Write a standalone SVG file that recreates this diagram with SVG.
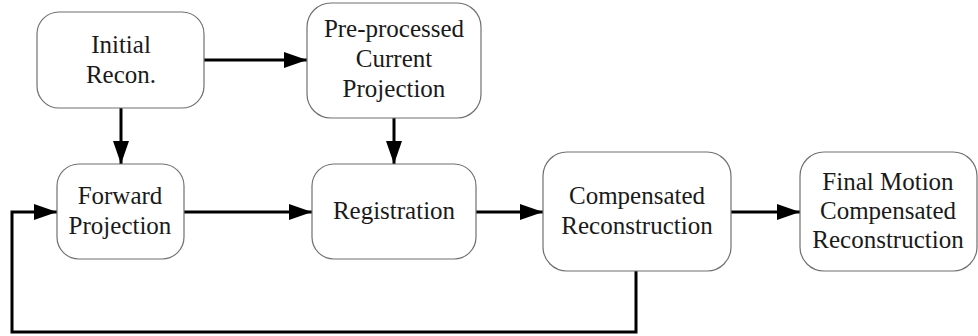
<svg xmlns="http://www.w3.org/2000/svg" width="978" height="336" viewBox="0 0 978 336" font-family="Liberation Serif, serif">
<style>
.box{fill:#fff;stroke:#707070;stroke-width:1.2}
.t{font-size:25px;fill:#1a1a1a;text-anchor:middle}
.c{fill:none;stroke:#000;stroke-width:3}
</style>
<defs>
<marker id="ah" markerUnits="userSpaceOnUse" markerWidth="24" markerHeight="18" refX="23" refY="8" orient="auto">
<path d="M0,0 L23,8 L0,16 Z" fill="#000"/>
</marker>
</defs>
<rect width="978" height="336" fill="#fff"/>
<g id="connectors">
<line class="c" x1="204" y1="60" x2="307" y2="60" marker-end="url(#ah)"/>
<line class="c" x1="121" y1="108" x2="121" y2="164" marker-end="url(#ah)"/>
<line class="c" x1="394" y1="118" x2="394" y2="164" marker-end="url(#ah)"/>
<line class="c" x1="184" y1="212" x2="312" y2="212" marker-end="url(#ah)"/>
<line class="c" x1="476" y1="212" x2="543" y2="212" marker-end="url(#ah)"/>
<line class="c" x1="731" y1="212" x2="800" y2="212" marker-end="url(#ah)"/>
<polyline class="c" points="636,271 636,332 12,332 12,212 57,212" marker-end="url(#ah)"/>
</g>
<g id="initial">
<rect class="box" x="37" y="12" width="167" height="96" rx="22"/>
<text class="t" x="121" y="53">Initial</text>
<text class="t" x="121" y="83">Recon.</text>
</g>
<g id="preprocessed">
<rect class="box" x="307" y="3" width="174" height="115" rx="24"/>
<text class="t" x="394" y="37">Pre-processed</text>
<text class="t" x="394" y="67">Current</text>
<text class="t" x="394" y="97">Projection</text>
</g>
<g id="forward">
<rect class="box" x="57" y="164" width="127" height="95" rx="22"/>
<text class="t" x="120" y="204">Forward</text>
<text class="t" x="120" y="234">Projection</text>
</g>
<g id="registration">
<rect class="box" x="312" y="164" width="164" height="95" rx="22"/>
<text class="t" x="394" y="219">Registration</text>
</g>
<g id="compensated">
<rect class="box" x="543" y="152" width="188" height="119" rx="24"/>
<text class="t" x="637" y="204">Compensated</text>
<text class="t" x="637" y="234">Reconstruction</text>
</g>
<g id="final">
<rect class="box" x="800" y="152" width="177" height="119" rx="24"/>
<text class="t" x="888" y="190">Final Motion</text>
<text class="t" x="888" y="219">Compensated</text>
<text class="t" x="888" y="248">Reconstruction</text>
</g>
</svg>
